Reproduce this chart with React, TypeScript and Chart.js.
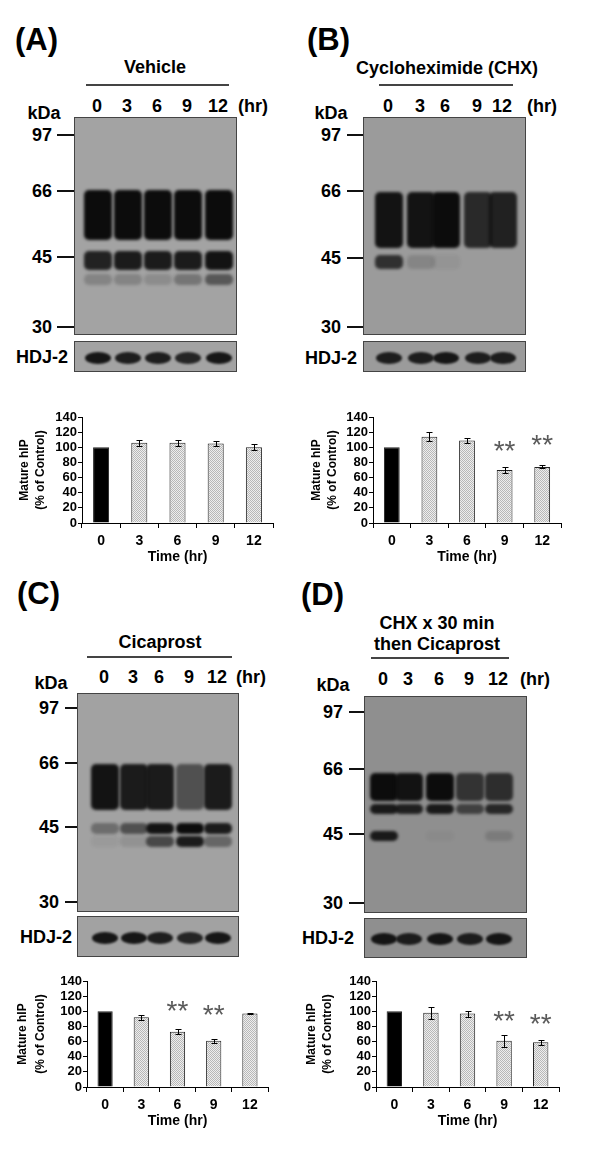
import React, { useEffect, useRef } from 'react';
import { Chart, registerables } from 'chart.js';

Chart.register(...registerables);

const FONT = 'Arial, "Liberation Sans", Helvetica, sans-serif';

// bar chart data (% of control, mean and error)
const timeLabels = ['0', '3', '6', '9', '12'];
const vehicleMean = [100, 106, 106, 105, 100];
const vehicleErr = [0, 4, 4, 3, 4];
const chxMean = [100, 114, 109, 70, 74];
const chxErr = [0, 6, 3, 4, 2];
const cicaMean = [100, 92, 73, 61, 97];
const cicaErr = [0, 3, 3, 3, 1];
const chxCicaMean = [100, 98, 97, 61, 59];
const chxCicaErr = [0, 8, 4, 8, 3];
const yTitle = ['Mature hIP', '(% of Control)'];

// height of the ** marks, in % of control
const noStars = [null, null, null, null, null];
const chxStars = [null, null, null, 104, 112];
const cicaStars = [null, null, 110, 105, null];
const chxCicaStars = [null, null, null, 97, 92];

// blot: markers and band darkness per lane
const markerKDa = [97, 66, 45, 30];
const vehicleSmear = [1, 1, 1, 1, 1];
const vehicle45 = [0.85, 0.9, 0.9, 0.9, 0.95];
const vehicle40 = [0.2, 0.2, 0.15, 0.3, 0.5];
const vehicleHdj = [0.95, 0.9, 0.9, 0.85, 0.95];
const chxSmear = [0.95, 0.95, 1, 0.8, 0.85];
const chx45 = [0.75, 0.15, 0.05, 0, 0];
const chxHdj = [0.9, 0.9, 0.95, 0.9, 0.9];
const cicaSmear = [0.95, 0.9, 0.9, 0.55, 0.9];
const cica45 = [0.35, 0.55, 0.95, 1, 0.9];
const cica42 = [0.05, 0.1, 0.6, 0.9, 0.4];
const cicaHdj = [0.95, 0.95, 0.9, 0.85, 0.95];
const chxCicaSmear = [1, 0.95, 1, 0.7, 0.75];
const chxCica52 = [0.9, 0.85, 0.9, 0.6, 0.8];
const chxCica45 = [0.9, 0, 0.03, 0, 0.15];
const chxCicaHdj = [0.95, 0.9, 0.95, 0.9, 0.95];

type Rect = [number, number, number, number];
type BandRow = { from: number; to: number; level: number[] };
type BlotLayout = {
  tag: string; tagX: number; tagY: number;
  title: string[]; titleX: number; titleY: number[];
  rule: [number, number, number];
  lanes: number[]; laneY: number; hrX: number;
  kdaX: number; kdaY: number;
  box: Rect; markerY: number[]; markerRight: number; tickX: [number, number];
  hdjBox: Rect; hdjX: number; hdjY: number; hdj: number[];
  shade: string; bands: BandRow[];
};

const blots: BlotLayout[] = [
  {
    tag: '(A)', tagX: 15, tagY: 39, title: ['Vehicle'], titleX: 155, titleY: [67],
    rule: [86, 229, 85], lanes: [97, 127, 157, 187, 218], laneY: 106, hrX: 253,
    kdaX: 44, kdaY: 113, box: [74, 117, 163, 218], markerY: [135, 191, 257, 327],
    markerRight: 52, tickX: [57, 74], hdjBox: [74, 341, 163, 31], hdjX: 42, hdjY: 357,
    hdj: vehicleHdj, shade: '#a3a3a3',
    bands: [
      { from: 67, to: 50, level: vehicleSmear },
      { from: 47, to: 42, level: vehicle45 },
      { from: 41, to: 38.5, level: vehicle40 },
    ],
  },
  {
    tag: '(B)', tagX: 307, tagY: 39, title: ['Cycloheximide (CHX)'], titleX: 447, titleY: [68],
    rule: [379, 513, 85], lanes: [388, 420, 445, 477, 502], laneY: 106, hrX: 542,
    kdaX: 331, kdaY: 113, box: [363, 117, 163, 218], markerY: [135, 191, 258, 327],
    markerRight: 341, tickX: [347, 363], hdjBox: [363, 341, 163, 31], hdjX: 331, hdjY: 358,
    hdj: chxHdj, shade: '#9b9b9b',
    bands: [
      { from: 66, to: 48, level: chxSmear },
      { from: 46, to: 42.5, level: chx45 },
    ],
  },
  {
    tag: '(C)', tagX: 17, tagY: 593, title: ['Cicaprost'], titleX: 160, titleY: [642],
    rule: [87, 232, 657], lanes: [104, 133, 159, 189, 217], laneY: 677, hrX: 251,
    kdaX: 51, kdaY: 683, box: [77, 693, 162, 219], markerY: [708, 763, 827, 902],
    markerRight: 59, tickX: [65, 77], hdjBox: [77, 916, 162, 41], hdjX: 46, hdjY: 937,
    hdj: cicaHdj, shade: '#a2a2a2',
    bands: [
      { from: 66, to: 50, level: cicaSmear },
      { from: 46.5, to: 43.5, level: cica45 },
      { from: 43, to: 40.5, level: cica42 },
    ],
  },
  {
    tag: '(D)', tagX: 301, tagY: 594, title: ['CHX x 30 min', 'then Cicaprost'], titleX: 437, titleY: [623, 644],
    rule: [371, 509, 658], lanes: [383, 408, 439, 469, 498], laneY: 679, hrX: 535,
    kdaX: 333, kdaY: 685, box: [364, 696, 163, 217], markerY: [712, 769, 834, 903],
    markerRight: 343, tickX: [349, 364], hdjBox: [364, 918, 163, 40], hdjX: 328, hdjY: 938,
    hdj: chxCicaHdj, shade: '#8f8f8f',
    bands: [
      { from: 65, to: 55, level: chxCicaSmear },
      { from: 54, to: 51, level: chxCica52 },
      { from: 46, to: 43.5, level: chxCica45 },
    ],
  },
];

// titleCols: x of the two rotated y-title lines, relative to the canvas
type ChartLayout = { left: number; top: number; axisX: number; axisEnd: number; titleCols: [number, number] };

const chartLayouts: ChartLayout[] = [
  { left: 0, top: 400, axisX: 82, axisEnd: 273, titleCols: [25, 41] },
  { left: 300, top: 400, axisX: 373, axisEnd: 561, titleCols: [17, 33] },
  { left: 0, top: 964, axisX: 87, axisEnd: 268, titleCols: [23, 41] },
  { left: 300, top: 964, axisX: 376, axisEnd: 559, titleCols: [12, 28] },
];

// kDa -> page y, piecewise log between the ladder marks
function kdaToY(kda: number, ys: number[]) {
  const l = Math.log(kda);
  let i = 0;
  while (i < markerKDa.length - 2 && l < Math.log(markerKDa[i + 1])) i++;
  const a = Math.log(markerKDa[i]);
  const b = Math.log(markerKDa[i + 1]);
  return ys[i] + ((a - l) / (a - b)) * (ys[i + 1] - ys[i]);
}

const Txt: React.FC<{ x: number; y: number; size?: number; align?: 'left' | 'center' | 'right'; children: React.ReactNode }> = ({ x, y, size = 18, align = 'center', children }) => (
  <div
    style={{
      position: 'absolute',
      left: x,
      top: y,
      transform: `translate(${align === 'center' ? '-50%' : align === 'right' ? '-100%' : '0'}, -50%)`,
      font: `bold ${size}px ${FONT}`,
      lineHeight: 1,
      whiteSpace: 'nowrap',
      color: '#000',
    }}
  >
    {children}
  </div>
);

const Blot: React.FC<{ b: BlotLayout }> = ({ b }) => {
  const [bx, by, bw, bh] = b.box;
  const [hx, hy, hw, hh] = b.hdjBox;
  return (
    <>
      <Txt x={b.tagX} y={b.tagY} size={31} align="left">{b.tag}</Txt>
      {b.title.map((t, i) => (
        <Txt key={t} x={b.titleX} y={b.titleY[i]}>{t}</Txt>
      ))}
      <div style={{ position: 'absolute', left: b.rule[0], top: b.rule[2] - 1, width: b.rule[1] - b.rule[0], height: 2, background: '#444' }} />
      {timeLabels.map((t, i) => (
        <Txt key={t} x={b.lanes[i]} y={b.laneY}>{t}</Txt>
      ))}
      <Txt x={b.hrX} y={b.laneY}>(hr)</Txt>
      <Txt x={b.kdaX} y={b.kdaY}>kDa</Txt>
      {markerKDa.map((m, i) => (
        <React.Fragment key={m}>
          <Txt x={b.markerRight} y={b.markerY[i]} align="right">{m}</Txt>
          <div style={{ position: 'absolute', left: b.tickX[0], top: b.markerY[i] - 1, width: b.tickX[1] - b.tickX[0], height: 2, background: '#111' }} />
        </React.Fragment>
      ))}
      <div style={{ position: 'absolute', left: bx, top: by, width: bw, height: bh, background: b.shade, border: '1px solid #444', boxSizing: 'border-box', overflow: 'hidden' }}>
        {b.bands.map((row, r) =>
          row.level.map((lv, i) => {
            if (lv <= 0) return null;
            const y1 = kdaToY(row.from, b.markerY) - by;
            const y2 = kdaToY(row.to, b.markerY) - by;
            return (
              <div
                key={`${r}-${i}`}
                style={{
                  position: 'absolute',
                  left: b.lanes[i] - bx - 14,
                  top: y1,
                  width: 28,
                  height: y2 - y1,
                  borderRadius: 5,
                  background: `rgba(12,12,12,${lv})`,
                  filter: 'blur(1.6px)',
                }}
              />
            );
          })
        )}
      </div>
      <Txt x={b.hdjX} y={b.hdjY}>HDJ-2</Txt>
      <div style={{ position: 'absolute', left: hx, top: hy, width: hw, height: hh, background: b.shade, border: '1px solid #444', boxSizing: 'border-box', overflow: 'hidden' }}>
        {b.hdj.map((lv, i) => (
          <div
            key={i}
            style={{
              position: 'absolute',
              left: b.lanes[i] - hx - 13,
              top: hh / 2 - 6,
              width: 26,
              height: 12,
              borderRadius: '50%',
              background: `rgba(15,15,15,${lv})`,
              filter: 'blur(1px)',
            }}
          />
        ))}
      </div>
    </>
  );
};

const PLOT_TOP = 17;
const PLOT_H = 106;
const X_AXIS_H = 50;

const BarChart: React.FC<{ lay: ChartLayout; means: number[]; errs: number[]; stars: (number | null)[] }> = ({ lay, means, errs, stars }) => {
  const canvasRef = useRef<HTMLCanvasElement | null>(null);

  useEffect(() => {
    const canvas = canvasRef.current;
    if (!canvas) return;
    const ctx = canvas.getContext('2d');
    if (!ctx) return;

    // stippled grey fill for the treated bars
    const pc = document.createElement('canvas');
    pc.width = 2;
    pc.height = 2;
    const p = pc.getContext('2d')!;
    p.fillStyle = '#eeeeee';
    p.fillRect(0, 0, 2, 2);
    p.fillStyle = '#b8b8b8';
    p.fillRect(0, 0, 1, 1);
    p.fillRect(1, 1, 1, 1);
    const stipple = ctx.createPattern(pc, 'repeat');

    const errorBars = {
      id: 'errorBars',
      afterDatasetsDraw(chart: Chart) {
        const c = chart.ctx;
        const y = chart.scales.y;
        const meta = chart.getDatasetMeta(0);
        c.save();
        c.strokeStyle = '#000';
        c.lineWidth = 1;
        meta.data.forEach((bar: any, i: number) => {
          const e = errs[i];
          if (!e) return;
          const x = Math.round(bar.x) + 0.5;
          const yt = Math.round(y.getPixelForValue(means[i] + e)) + 0.5;
          const yb = Math.round(y.getPixelForValue(means[i] - e)) + 0.5;
          c.beginPath();
          c.moveTo(x, yt);
          c.lineTo(x, yb);
          c.moveTo(x - 3, yt);
          c.lineTo(x + 3, yt);
          c.moveTo(x - 3, yb);
          c.lineTo(x + 3, yb);
          c.stroke();
        });
        c.fillStyle = '#5a5a5a';
        c.font = `28px ${FONT}`;
        c.textAlign = 'center';
        c.textBaseline = 'alphabetic';
        stars.forEach((v, i) => {
          if (v == null) return;
          const bar: any = meta.data[i];
          c.fillText('**', bar.x, y.getPixelForValue(v) + 16);
        });
        // rotated two-line y title, centred on the plot
        const mid = (chart.chartArea.top + chart.chartArea.bottom) / 2;
        c.fillStyle = '#000';
        c.font = `bold 12px ${FONT}`;
        c.textBaseline = 'middle';
        yTitle.forEach((line, i) => {
          c.save();
          c.translate(lay.titleCols[i], mid);
          c.rotate(-Math.PI / 2);
          c.fillText(line, 0, 0);
          c.restore();
        });
        c.restore();
      },
    };

    const chart = new Chart(ctx, {
      type: 'bar',
      data: {
        labels: timeLabels,
        datasets: [
          {
            data: means,
            backgroundColor: means.map((_, i) => (i === 0 ? '#000' : (stipple as any))),
            borderColor: '#222',
            borderWidth: 1,
            barPercentage: 0.42,
            categoryPercentage: 1,
          },
        ],
      },
      options: {
        responsive: false,
        animation: false,
        layout: { padding: { top: PLOT_TOP, right: lay.left + 300 - lay.axisEnd, bottom: 0, left: 0 } },
        plugins: { legend: { display: false }, tooltip: { enabled: false } },
        scales: {
          x: {
            grid: { display: true, drawOnChartArea: false, tickLength: 5, color: '#000', offset: true },
            border: { color: '#000', width: 1 },
            ticks: { color: '#000', font: { family: FONT, size: 14, weight: 'bold' }, padding: 5, maxRotation: 0 },
            title: {
              display: true,
              text: 'Time (hr)',
              color: '#000',
              font: { family: FONT, size: 14, weight: 'bold', lineHeight: 1.2 },
              padding: { top: 0, bottom: 7 },
            },
            afterFit: (s: any) => {
              s.height = X_AXIS_H;
            },
          },
          y: {
            min: 0,
            max: 140,
            ticks: { stepSize: 20, autoSkip: false, color: '#000', font: { family: FONT, size: 13, weight: 'bold' }, padding: 1 },
            grid: { drawOnChartArea: false, tickLength: 4, color: '#000' },
            border: { color: '#000', width: 1 },
            afterFit: (s: any) => {
              s.width = lay.axisX - lay.left;
            },
          },
        },
      },
      plugins: [errorBars],
    });

    return () => chart.destroy();
  }, []);

  return (
    <canvas
      ref={canvasRef}
      width={300}
      height={PLOT_TOP + PLOT_H + X_AXIS_H}
      style={{ position: 'absolute', left: lay.left, top: lay.top, width: 300, height: PLOT_TOP + PLOT_H + X_AXIS_H }}
    />
  );
};

export default function App() {
  return (
    <div style={{ position: 'relative', width: 600, height: 1151, background: '#fff', overflow: 'hidden' }}>
      <style>{'body{margin:0}'}</style>
      {blots.map((b) => (
        <Blot key={b.tag} b={b} />
      ))}
      <BarChart lay={chartLayouts[0]} means={vehicleMean} errs={vehicleErr} stars={noStars} />
      <BarChart lay={chartLayouts[1]} means={chxMean} errs={chxErr} stars={chxStars} />
      <BarChart lay={chartLayouts[2]} means={cicaMean} errs={cicaErr} stars={cicaStars} />
      <BarChart lay={chartLayouts[3]} means={chxCicaMean} errs={chxCicaErr} stars={chxCicaStars} />
    </div>
  );
}
